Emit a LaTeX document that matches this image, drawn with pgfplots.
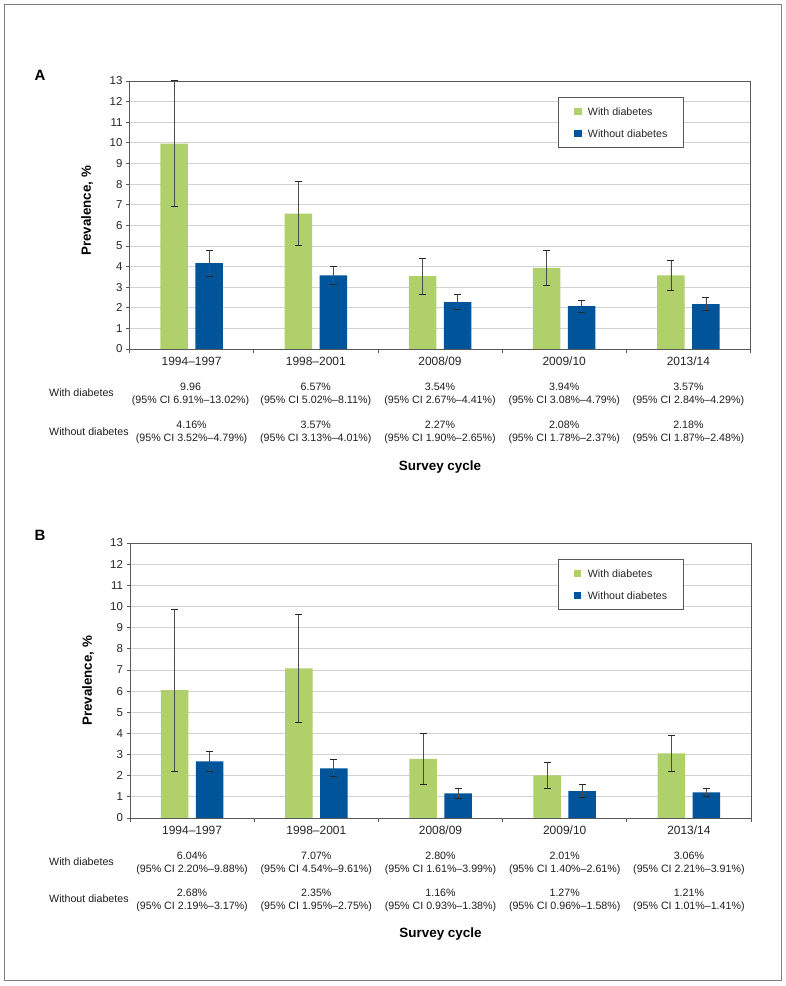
\documentclass[border=0pt]{standalone}
\usepackage{fontspec}
\setmainfont{Liberation Sans}
\usepackage{pgfplots}
\usepackage{pgfplotstable}
\pgfplotsset{compat=1.18}
\definecolor{gr}{HTML}{B0D06C}
\definecolor{bl}{HTML}{00549A}
\definecolor{axc}{HTML}{595959}
\definecolor{gridc}{HTML}{D2D2D2}
\definecolor{framec}{HTML}{808080}

\pgfplotstableread{
x y lo hi
0 9.96 6.91 13.02
1 6.57 5.02 8.11
2 3.54 2.67 4.41
3 3.94 3.08 4.79
4 3.57 2.84 4.29
}\Awith
\pgfplotstableread{
x y lo hi
0 4.16 3.52 4.79
1 3.57 3.13 4.01
2 2.27 1.90 2.65
3 2.08 1.78 2.37
4 2.18 1.87 2.48
}\Awithout
\pgfplotstableread{
x y lo hi
0 6.04 2.20 9.88
1 7.07 4.54 9.61
2 2.80 1.61 3.99
3 2.01 1.40 2.61
4 3.06 2.21 3.91
}\Bwith
\pgfplotstableread{
x y lo hi
0 2.68 2.19 3.17
1 2.35 1.95 2.75
2 1.16 0.93 1.38
3 1.27 0.96 1.58
4 1.21 1.01 1.41
}\Bwithout

\pgfplotsset{
  panel/.style={
    scale only axis, width=621bp,
    xmin=-0.5, xmax=4.5, ymin=0, ymax=13,
    ytick={0,1,...,13},
    xtick={0,1,2,3,4},
    xticklabels={1994–1997,1998–2001,2008/09,2009/10,2013/14},
    minor xtick={-0.5,0.5,1.5,2.5,3.5,4.5},
    major x tick style={draw=none},
    xtick pos=bottom, ytick pos=left,
    tick align=outside, major tick length=3.5bp, minor tick length=4bp,
    tick style={axc, line width=0.7bp},
    ymajorgrids, grid style={gridc, line width=0.8bp},
    axis line style={axc, line width=0.8bp},
    ybar=7.5bp, bar width=27.5bp,
    tick label style={font=\fontsize{11.5}{13}\selectfont, text=black!85},
    xticklabel style={font=\fontsize{12}{14}\selectfont, yshift=-1bp},
    /pgf/number format/assume math mode=true,
    legend cell align=left,
    legend style={anchor=north west, draw=axc, line width=0.8bp,
      font=\fontsize{10.7}{12}\selectfont, text=black!85,
      inner xsep=16bp, inner ysep=10bp, row sep=14.3bp, column sep=0pt,
      nodes={inner sep=0pt, text height=7.7bp, text depth=0pt}},
  },
  barplot/.style={draw=none, fill=#1,
    legend image code/.code={\path (0bp,0bp) -- (13.6bp,0bp); \fill[##1] (0bp,-3.6bp) rectangle (7.2bp,3.6bp);},
    error bars/.cd, y dir=both, y explicit,
    error bar style={black!70, line width=0.75bp},
    error mark options={rotate=90, black!85, line width=0.75bp, mark size=3.5bp}},
}
\tikzset{valfont/.style={font=\fontsize{10.7}{12}\selectfont, text=black!88, inner sep=0pt}}
\newcommand{\cellv}[4]{\node[valfont] at (#1bp,#2bp) {#3}; \node[valfont] at (#1bp,#2bp-14bp) {#4};}

\begin{document}
\begin{tikzpicture}
\useasboundingbox (0,0) rectangle (786bp,986bp);
\fill[white] (0,0) rectangle (786bp,986bp);
\draw[framec, line width=1.2bp] (4.6bp,5.6bp) rectangle (781.4bp,981.4bp);

% ---------------- Panel A ----------------
\begin{axis}[panel, at={(129.5bp,637bp)}, anchor=south west, height=268bp,
  legend style={at={(0.690,0.940)}}]
\addplot[barplot=gr] table[x=x, y=y, y error plus expr=\thisrow{hi}-\thisrow{y}, y error minus expr=\thisrow{y}-\thisrow{lo}] {\Awith};
\addplot[barplot=bl] table[x=x, y=y, y error plus expr=\thisrow{hi}-\thisrow{y}, y error minus expr=\thisrow{y}-\thisrow{lo}] {\Awithout};
\legend{With diabetes, Without diabetes}
\end{axis}
\node[font=\bfseries\fontsize{15}{17}\selectfont] at (40bp,911bp) {A};
\node[rotate=90, font=\bfseries\fontsize{13.4}{15}\selectfont] at (87bp,775bp) {Prevalence, \%};
\node[valfont, anchor=west] at (49bp,593bp) {With diabetes};
\node[valfont, anchor=west] at (49bp,554bp) {Without diabetes};
\cellv{190.6}{599}{9.96}{(95\% CI 6.91\%–13.02\%)}
\cellv{315.8}{599}{6.57\%}{(95\% CI 5.02\%–8.11\%)}
\cellv{440.0}{599}{3.54\%}{(95\% CI 2.67\%–4.41\%)}
\cellv{564.2}{599}{3.94\%}{(95\% CI 3.08\%–4.79\%)}
\cellv{688.4}{599}{3.57\%}{(95\% CI 2.84\%–4.29\%)}
\cellv{191.6}{561}{4.16\%}{(95\% CI 3.52\%–4.79\%)}
\cellv{315.8}{561}{3.57\%}{(95\% CI 3.13\%–4.01\%)}
\cellv{440.0}{561}{2.27\%}{(95\% CI 1.90\%–2.65\%)}
\cellv{564.2}{561}{2.08\%}{(95\% CI 1.78\%–2.37\%)}
\cellv{688.4}{561}{2.18\%}{(95\% CI 1.87\%–2.48\%)}
\node[font=\bfseries\fontsize{13.5}{15}\selectfont] at (440bp,519bp) {Survey cycle};

% ---------------- Panel B ----------------
\begin{axis}[panel, at={(130bp,168bp)}, anchor=south west, height=275bp,
  legend style={at={(0.689,0.942)}}]
\addplot[barplot=gr] table[x=x, y=y, y error plus expr=\thisrow{hi}-\thisrow{y}, y error minus expr=\thisrow{y}-\thisrow{lo}] {\Bwith};
\addplot[barplot=bl] table[x=x, y=y, y error plus expr=\thisrow{hi}-\thisrow{y}, y error minus expr=\thisrow{y}-\thisrow{lo}] {\Bwithout};
\legend{With diabetes, Without diabetes}
\end{axis}
\node[font=\bfseries\fontsize{15}{17}\selectfont] at (40bp,451bp) {B};
\node[rotate=90, font=\bfseries\fontsize{13.4}{15}\selectfont] at (88bp,305bp) {Prevalence, \%};
\node[valfont, anchor=west] at (49bp,124bp) {With diabetes};
\node[valfont, anchor=west] at (49bp,87bp) {Without diabetes};
\cellv{192.1}{130}{6.04\%}{(95\% CI 2.20\%–9.88\%)}
\cellv{316.3}{130}{7.07\%}{(95\% CI 4.54\%–9.61\%)}
\cellv{440.5}{130}{2.80\%}{(95\% CI 1.61\%–3.99\%)}
\cellv{564.7}{130}{2.01\%}{(95\% CI 1.40\%–2.61\%)}
\cellv{688.9}{130}{3.06\%}{(95\% CI 2.21\%–3.91\%)}
\cellv{192.1}{93}{2.68\%}{(95\% CI 2.19\%–3.17\%)}
\cellv{316.3}{93}{2.35\%}{(95\% CI 1.95\%–2.75\%)}
\cellv{440.5}{93}{1.16\%}{(95\% CI 0.93\%–1.38\%)}
\cellv{564.7}{93}{1.27\%}{(95\% CI 0.96\%–1.58\%)}
\cellv{688.9}{93}{1.21\%}{(95\% CI 1.01\%–1.41\%)}
\node[font=\bfseries\fontsize{13.5}{15}\selectfont] at (440.5bp,52bp) {Survey cycle};
\end{tikzpicture}
\end{document}
